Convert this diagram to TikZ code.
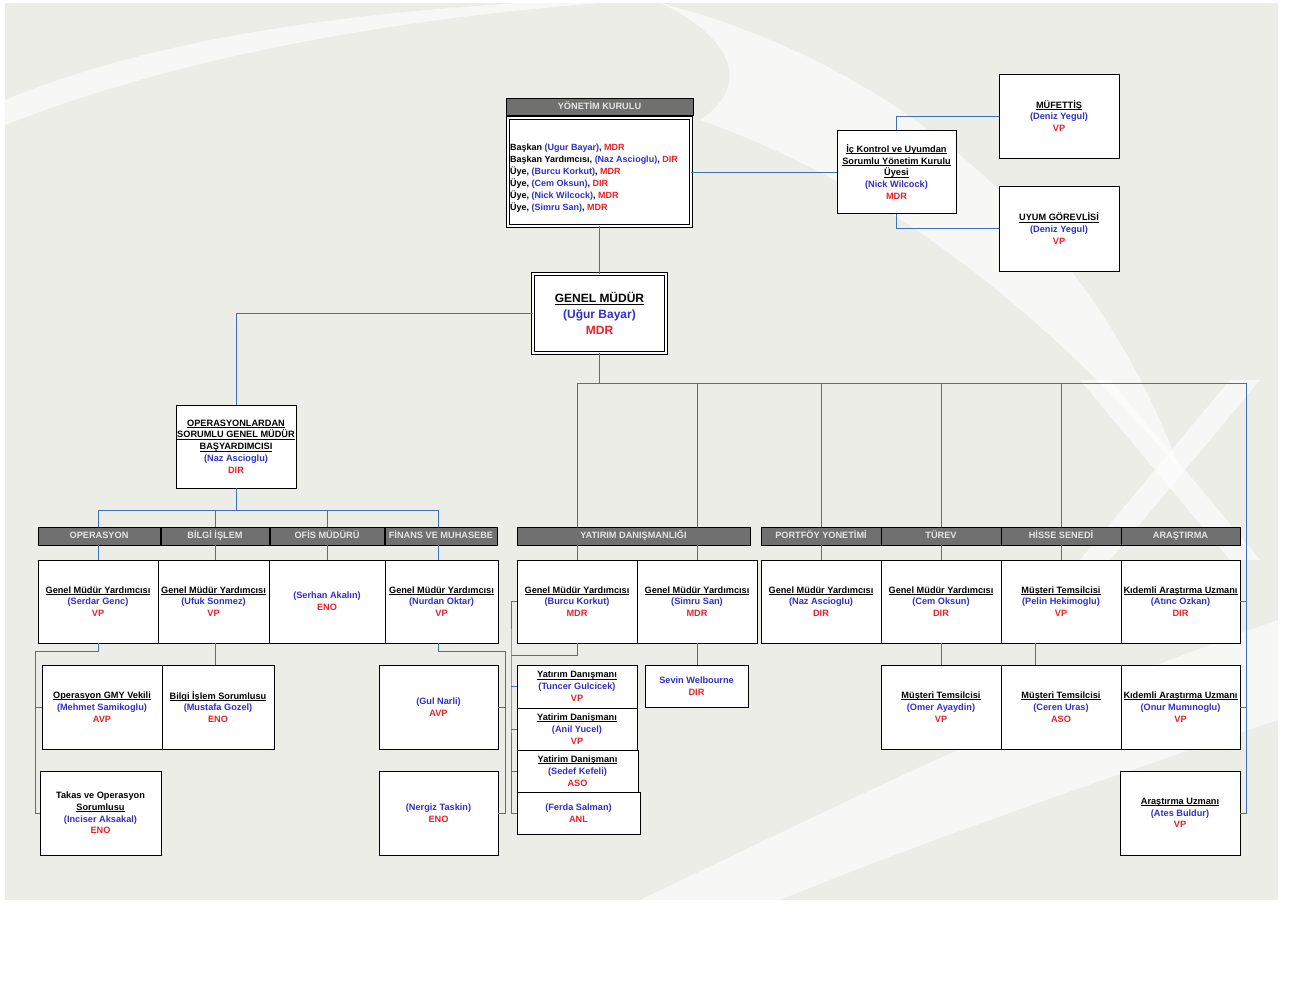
\documentclass[tikz,border=0pt]{standalone}
\usepackage{fontspec}
\setmainfont{Liberation Sans}
\usetikzlibrary{calc}
\definecolor{bgc}{RGB}{237,237,231}
\definecolor{lnblue}{RGB}{62,112,188}
\definecolor{tblue}{RGB}{48,48,200}
\definecolor{tred}{RGB}{235,32,40}
\definecolor{hdrc}{RGB}{112,112,112}
\newcommand{\bl}[1]{\textcolor{tblue}{#1}}
\newcommand{\rd}[1]{\textcolor{tred}{#1}}
\newsavebox{\undlbox}
\newcommand{\undl}[1]{\sbox{\undlbox}{#1}\rlap{\rule[-1.5pt]{\wd\undlbox}{0.6pt}}\usebox{\undlbox}}
\begin{document}
\begin{tikzpicture}[x=1pt,y=-1pt,
  box/.style={draw=black, line width=0.9pt, fill=white, align=center, inner sep=0pt,
    font=\fontsize{9.2}{11.8}\selectfont\bfseries},
  hdrbox/.style={draw=black, line width=0.9pt, fill=hdrc, text=white!90!black, inner sep=0pt,
    minimum height=18pt, text height=6.8pt, text depth=1.6pt, font=\fontsize{9.2}{10}\selectfont\bfseries},
  dbox/.style={box, double=white, double distance=2.4pt, line width=0.8pt},
  conn/.style={draw=lnblue, line width=1pt},
  swoosh/.style={fill=white, opacity=0.6},
]
\useasboundingbox (0,0) rectangle (1299,988);
\fill[white] (0,0) rectangle (1299,988);
\fill[bgc] (5,3) rectangle (1278,900);
% background swooshes
\fill[swoosh] (5,100) .. controls (150,40) and (330,15) .. (520,3) -- (600,3) .. controls (380,20) and (170,60) .. (5,125) -- cycle;
\fill[swoosh] (660,3) .. controls (920,70) and (1100,250) .. (1180,470) .. controls (1060,330) and (900,190) .. (700,120) .. controls (760,80) and (720,30) .. (660,3) -- cycle;
\fill[swoosh] (1080,380) -- (1110,380) -- (1260,560) -- (1230,560) -- cycle;
\fill[swoosh] (1230,380) -- (1260,380) -- (1110,560) -- (1080,560) -- cycle;
\fill[swoosh] (640,900) .. controls (850,800) and (1050,700) .. (1278,620) -- (1278,720) .. controls (1100,780) and (900,850) .. (780,900) -- cycle;

% ---- top board ----
\node[hdrbox, minimum width=187pt, minimum height=17pt] (boardH) at (599.5,106.5) {YÖNETİM KURULU};
\node[dbox, minimum width=183pt, minimum height=108pt] (board) at (599.5,172) {};
\node[anchor=west, align=left, inner sep=0pt, font=\fontsize{9}{12}\selectfont\bfseries] (boardT) at (510,178)
  {Başkan \bl{(Ugur Bayar)}, \rd{MDR}\\
   Başkan Yardımcısı, \bl{(Naz Ascioglu)}, \rd{DIR}\\
   Üye, \bl{(Burcu Korkut)}, \rd{MDR}\\
   Üye, \bl{(Cem Oksun)}, \rd{DIR}\\
   Üye, \bl{(Nick Wilcock)}, \rd{MDR}\\
   Üye, \bl{(Simru San)}, \rd{MDR}};
\node[dbox, minimum width=133pt, minimum height=79pt, font=\fontsize{12}{16}\selectfont\bfseries] (gm) at (599.5,313.5)
  {\undl{GENEL MÜDÜR}\\\bl{(Uğur Bayar)}\\\rd{MDR}};
\node[box, minimum width=119pt, minimum height=83pt] (ic) at (896.5,172)
  {\undl{İç Kontrol ve Uyumdan}\\\undl{Sorumlu Yönetim Kurulu}\\\undl{Üyesi}\\\bl{(Nick Wilcock)}\\\rd{MDR}};
\node[box, minimum width=120pt, minimum height=84pt] (muf) at (1059,116)
  {\undl{MÜFETTİŞ}\\\bl{(Deniz Yegul)}\\\rd{VP}};
\node[box, minimum width=120pt, minimum height=85pt] (uyum) at (1059,228.5)
  {\undl{UYUM GÖREVLİSİ}\\\bl{(Deniz Yegul)}\\\rd{VP}};
\node[box, minimum width=120pt, minimum height=83pt] (ops) at (236,446.5)
  {\undl{OPERASYONLARDAN}\\\undl{SORUMLU GENEL MÜDÜR}\\\undl{BAŞYARDIMCISI}\\\bl{(Naz Ascioglu)}\\\rd{DIR}};

% ---- headers ----
\node[hdrbox, minimum width=122pt] (opH)  at (99,536)     {OPERASYON};
\node[hdrbox, minimum width=108pt] (bilH) at (215,536)    {BİLGİ İŞLEM};
\node[hdrbox, minimum width=114pt] (ofH)  at (327,536)    {OFİS MÜDÜRÜ};
\node[hdrbox, minimum width=112pt] (finH) at (441,536)    {FİNANS VE MUHASEBE};
\node[hdrbox, minimum width=233pt] (yatH) at (633.5,536)  {YATIRIM DANIŞMANLIĞI};
\node[hdrbox, minimum width=120pt] (porH) at (821,536)    {PORTFÖY YONETİMİ};
\node[hdrbox, minimum width=120pt] (turH) at (941,536)    {TÜREV};
\node[hdrbox, minimum width=120pt] (hisH) at (1061,536)   {HİSSE SENEDİ};
\node[hdrbox, minimum width=119pt] (araH) at (1180.5,536) {ARAŞTIRMA};

% ---- row 1 ----
\node[box, minimum width=120pt, minimum height=83pt] (serdar) at (98,601.5)
  {\undl{Genel Müdür Yardımcısı}\\\bl{(Serdar Genc)}\\\rd{VP}};
\node[box, minimum width=111pt, minimum height=83pt] (ufuk) at (213.5,601.5)
  {\undl{Genel Müdür Yardımcısı}\\\bl{(Ufuk Sonmez)}\\\rd{VP}};
\node[box, minimum width=116pt, minimum height=83pt] (serhan) at (327,601.5)
  {\bl{(Serhan Akalın)}\\\rd{ENO}};
\node[box, minimum width=113pt, minimum height=83pt] (nurdan) at (441.5,601.5)
  {\undl{Genel Müdür Yardımcısı}\\\bl{(Nurdan Oktar)}\\\rd{VP}};
\node[box, minimum width=120pt, minimum height=83pt] (burcu) at (577,601.5)
  {\undl{Genel Müdür Yardımcısı}\\\bl{(Burcu Korkut)}\\\rd{MDR}};
\node[box, minimum width=120pt, minimum height=83pt] (simru) at (697,601.5)
  {\undl{Genel Müdür Yardımcısı}\\\bl{(Simru San)}\\\rd{MDR}};
\node[box, minimum width=120pt, minimum height=83pt] (naz) at (821,601.5)
  {\undl{Genel Müdür Yardımcısı}\\\bl{(Naz Ascioglu)}\\\rd{DIR}};
\node[box, minimum width=120pt, minimum height=83pt] (cem) at (941,601.5)
  {\undl{Genel Müdür Yardımcısı}\\\bl{(Cem Oksun)}\\\rd{DIR}};
\node[box, minimum width=120pt, minimum height=83pt] (pelin) at (1061,601.5)
  {\undl{Müşteri Temsilcisi}\\\bl{(Pelin Hekimoglu)}\\\rd{VP}};
\node[box, minimum width=119pt, minimum height=83pt] (atinc) at (1180.5,601.5)
  {\undl{Kıdemli Araştırma Uzmanı}\\\bl{(Atınc Ozkan)}\\\rd{DIR}};

% ---- row 2 ----
\node[box, minimum width=120pt, minimum height=84pt] (mehmet) at (102,707)
  {\undl{Operasyon GMY Vekili}\\\bl{(Mehmet Samikoglu)}\\\rd{AVP}};
\node[box, minimum width=112pt, minimum height=84pt] (mustafa) at (218,707)
  {\undl{Bilgi İşlem Sorumlusu}\\\bl{(Mustafa Gozel)}\\\rd{ENO}};
\node[box, minimum width=119pt, minimum height=84pt] (gul) at (438.5,707)
  {\bl{(Gul Narli)}\\\rd{AVP}};
\node[box, minimum width=120pt, minimum height=43pt] (tuncer) at (577,686.5)
  {\undl{Yatırım Danışmanı}\\\bl{(Tuncer Gulcicek)}\\\rd{VP}};
\node[box, minimum width=120pt, minimum height=42pt] (anil) at (577,729)
  {\undl{Yatirim Danişmanı}\\\bl{(Anil Yucel)}\\\rd{VP}};
\node[box, minimum width=121pt, minimum height=42pt] (sedef) at (577.5,771)
  {\undl{Yatirim Danişmanı}\\\bl{(Sedef Kefeli)}\\\rd{ASO}};
\node[box, minimum width=123pt, minimum height=42pt] (ferda) at (578.5,813)
  {\bl{(Ferda Salman)}\\\rd{ANL}};
\node[box, minimum width=103pt, minimum height=42pt] (sevin) at (696.5,686)
  {\bl{Sevin Welbourne}\\\rd{DIR}};
\node[box, minimum width=120pt, minimum height=84pt] (omer) at (941,707)
  {\undl{Müşteri Temsilcisi}\\\bl{(Omer Ayaydin)}\\\rd{VP}};
\node[box, minimum width=120pt, minimum height=84pt] (ceren) at (1061,707)
  {\undl{Müşteri Temsilcisi}\\\bl{(Ceren Uras)}\\\rd{ASO}};
\node[box, minimum width=119pt, minimum height=84pt] (onur) at (1180.5,707)
  {\undl{Kıdemli Araştırma Uzmanı}\\\bl{(Onur Mumınoglu)}\\\rd{VP}};

% ---- row 3 ----
\node[box, minimum width=121pt, minimum height=84pt] (takas) at (100.5,813)
  {Takas ve Operasyon\\\undl{Sorumlusu}\\\bl{(Inciser Aksakal)}\\\rd{ENO}};
\node[box, minimum width=119pt, minimum height=84pt] (nergiz) at (438.5,813)
  {\bl{(Nergiz Taskin)}\\\rd{ENO}};
\node[box, minimum width=120pt, minimum height=84pt] (ates) at (1180,813)
  {\undl{Araştırma Uzmanı}\\\bl{(Ates Buldur)}\\\rd{VP}};

% ---- connectors ----
\coordinate (jR) at (599.5,383);
\coordinate (rr) at (1246,383);
\coordinate (jL) at (236,510);
\coordinate (finX) at (438,510);
\coordinate (oL) at (35,651);
\coordinate (fR) at (505,651);
\coordinate (yL) at (511,655);

\draw[conn] (board.south) -- (gm.north);
\draw[conn] (board.east) -- (board.east -| ic.west);
\draw[conn] (ic.north) |- (muf.west);
\draw[conn] (ic.south) |- (uyum.west);
\draw[conn] (gm.west) -| (ops.north);

\draw[conn] (gm.south) -- (jR);
\draw[conn] (burcu |- jR) -- (rr);
\draw[conn] (rr) |- (ates.east);
\draw[conn] (rr |- atinc.east) -- (atinc.east);
\draw[conn] (rr |- onur.east) -- (onur.east);
\foreach \n/\h in {burcu/yatH, simru/yatH, naz/porH, cem/turH, pelin/hisH}{
  \draw[conn] (\n |- jR) -- (\n |- \h.north);
  \draw[conn] (\n |- \h.south) -- (\n.north);
}

\draw[conn] (ops.south) -- (jL);
\draw[conn] (serdar |- jL) -- (finX);
\foreach \n/\h in {serdar/opH, bilH/bilH, serhan/ofH, finX/finH}{
  \draw[conn] (\n |- jL) -- (\n |- \h.north);
  \draw[conn] (\n |- \h.south) -- (\n |- serdar.north);
}

\draw[conn] (serdar.south) |- (oL) |- (takas.west);
\draw[conn] (oL |- mehmet.west) -- (mehmet.west);
\draw[conn] (bilH |- ufuk.south) -- (bilH |- mustafa.north);
\draw[conn] (finX |- nurdan.south) |- (fR) |- (nergiz.east);
\draw[conn] (fR |- gul.east) -- (gul.east);

\draw[conn] (burcu.south) |- (yL);
\draw[conn] (burcu.west) -| (yL) |- (ferda.west);
\draw[conn] (yL |- tuncer.west) -- (tuncer.west);
\draw[conn] (yL |- anil.west) -- (anil.west);
\draw[conn] (yL |- sedef.west) -- (sedef.west);
\draw[conn] (simru.south) -- (simru.south |- sevin.north);

\draw[conn] (cem.south) -- (omer.north);
\draw[conn] ([xshift=-26pt]pelin.south) -- ([xshift=-26pt]ceren.north);
\end{tikzpicture}
\end{document}
